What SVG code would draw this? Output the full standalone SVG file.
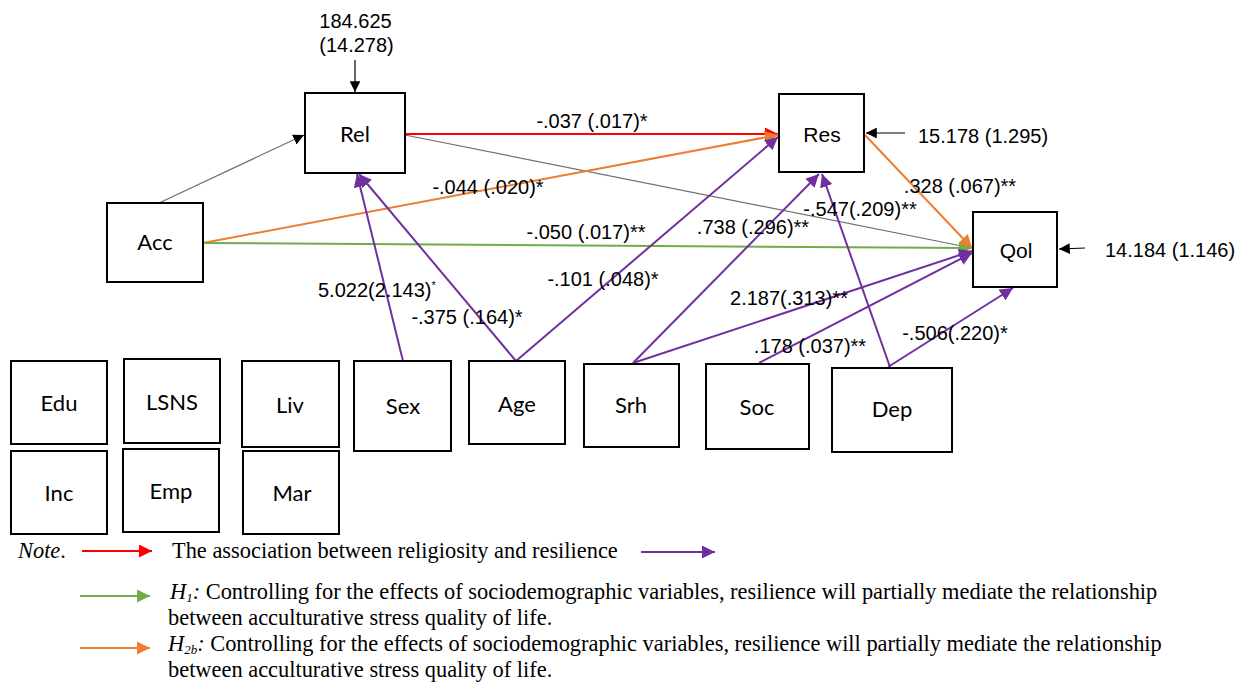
<svg xmlns="http://www.w3.org/2000/svg" width="1238" height="682" viewBox="0 0 1238 682">
<style>
.box{fill:#fff;stroke:#000;stroke-width:2}
.nl{font-family:Lato,"Liberation Sans",sans-serif;font-size:22px;text-anchor:middle;fill:#000}
.na{font-family:"Liberation Sans",Arial,sans-serif;font-size:21px;text-anchor:middle;fill:#000}
.lb{font-family:"Liberation Sans",Arial,sans-serif;font-size:20px;fill:#000}
.lm{text-anchor:middle}
.lg{font-family:"Liberation Serif","Times New Roman",serif;font-size:22.4px;fill:#000}
.p{stroke:#7030A0;stroke-width:2;fill:none}
.o{stroke:#ED7D31;stroke-width:2;fill:none}
.g{stroke:#70AD47;stroke-width:2;fill:none}
.r{stroke:#FF0000;stroke-width:2;fill:none}
.k{stroke:#707070;stroke-width:1.2;fill:none}
.b{stroke:#000;stroke-width:1.2;fill:none}
</style>
<defs>
<marker id="mp" viewBox="0 0 10 10" refX="10" refY="5" markerWidth="6.5" markerHeight="6.5" markerUnits="strokeWidth" orient="auto"><path d="M0,0L10,5L0,10z" fill="#7030A0"/></marker>
<marker id="mo" viewBox="0 0 10 10" refX="10" refY="5" markerWidth="6.5" markerHeight="6.5" markerUnits="strokeWidth" orient="auto"><path d="M0,0L10,5L0,10z" fill="#ED7D31"/></marker>
<marker id="mg" viewBox="0 0 10 10" refX="10" refY="5" markerWidth="6.5" markerHeight="6.5" markerUnits="strokeWidth" orient="auto"><path d="M0,0L10,5L0,10z" fill="#70AD47"/></marker>
<marker id="mr" viewBox="0 0 10 10" refX="10" refY="5" markerWidth="6.5" markerHeight="6.5" markerUnits="strokeWidth" orient="auto"><path d="M0,0L10,5L0,10z" fill="#FF0000"/></marker>
<marker id="mk" viewBox="0 0 10 10" refX="10" refY="5" markerWidth="9" markerHeight="9" markerUnits="strokeWidth" orient="auto"><path d="M0,0L10,5L0,10z" fill="#000"/></marker>
</defs>
<rect width="1238" height="682" fill="#fff"/>

<g id="connectors">
<line class="k" x1="159" y1="203" x2="304" y2="135" marker-end="url(#mk)"/>
<line class="k" x1="405" y1="135" x2="972" y2="248" marker-end="url(#mk)"/>
<line class="r" x1="405" y1="134" x2="778" y2="134" marker-end="url(#mr)"/>
<line class="o" x1="203" y1="243" x2="778" y2="135" marker-end="url(#mo)"/>
<line class="g" x1="203" y1="243" x2="972" y2="248" marker-end="url(#mg)"/>
<line class="o" x1="865" y1="135" x2="972" y2="248" marker-end="url(#mo)"/>
<line class="p" x1="403" y1="361" x2="357" y2="174" marker-end="url(#mp)"/>
<line class="p" x1="516" y1="361" x2="359" y2="174" marker-end="url(#mp)"/>
<line class="p" x1="516" y1="361" x2="778" y2="137" marker-end="url(#mp)"/>
<line class="p" x1="633" y1="363" x2="819" y2="174" marker-end="url(#mp)"/>
<line class="p" x1="633" y1="363" x2="972" y2="251" marker-end="url(#mp)"/>
<line class="p" x1="759" y1="363" x2="972" y2="253" marker-end="url(#mp)"/>
<line class="p" x1="890" y1="367" x2="822" y2="174" marker-end="url(#mp)"/>
<line class="p" x1="888" y1="367" x2="1013" y2="288" marker-end="url(#mp)"/>
<line class="b" x1="355" y1="60" x2="355" y2="92" marker-end="url(#mk)"/>
<line class="b" x1="905" y1="133" x2="866" y2="133" marker-end="url(#mk)"/>
<line class="b" x1="1085" y1="248" x2="1059" y2="249" marker-end="url(#mk)"/>
</g>

<g id="labels" class="lb">
<text x="355.5" y="28" class="lm">184.625</text>
<text x="356.5" y="52" class="lm">(14.278)</text>
<text x="592" y="128" class="lm">-.037 (.017)*</text>
<text x="488" y="194" class="lm">-.044 (.020)*</text>
<text x="586" y="239" class="lm">-.050 (.017)**</text>
<text x="603" y="286" class="lm">-.101 (.048)*</text>
<text x="753" y="234" class="lm">.738 (.296)**</text>
<text x="860" y="216" class="lm">-.547(.209)**</text>
<text x="960" y="193" class="lm">.328 (.067)**</text>
<text x="918" y="143">15.178 (1.295)</text>
<text x="1105" y="257">14.184 (1.146)</text>
<text x="318" y="297">5.022(2.143)<tspan font-size="11" dy="-8">*</tspan></text>
<text x="467" y="324" class="lm">-.375 (.164)*</text>
<text x="789" y="305" class="lm">2.187(.313)**</text>
<text x="810" y="353" class="lm">.178 (.037)**</text>
<text x="955" y="340" class="lm">-.506(.220)*</text>
</g>

<g id="Rel"><rect class="box" x="305" y="93" width="100" height="80"/><text class="nl" x="355" y="142">Rel</text></g>
<g id="Acc"><rect class="box" x="107" y="203" width="96" height="79"/><text class="nl" x="155" y="250">Acc</text></g>
<g id="Res"><rect class="box" x="779" y="94" width="85" height="78"/><text class="na" x="822" y="142">Res</text></g>
<g id="Qol"><rect class="box" x="973" y="212" width="84" height="75"/><text class="na" x="1016" y="258">Qol</text></g>
<g id="Edu"><rect class="box" x="11" y="361" width="96" height="83"/><text class="nl" x="59" y="411">Edu</text></g>
<g id="LSNS"><rect class="box" x="124" y="359" width="96" height="84"/><text class="nl" x="172" y="410">LSNS</text></g>
<g id="Liv"><rect class="box" x="242" y="361" width="97" height="86"/><text class="nl" x="290" y="413">Liv</text></g>
<g id="Sex"><rect class="box" x="354" y="361" width="97" height="90"/><text class="nl" x="403" y="414">Sex</text></g>
<g id="Age"><rect class="box" x="469" y="361" width="96" height="83"/><text class="nl" x="517" y="412">Age</text></g>
<g id="Srh"><rect class="box" x="584" y="364" width="95" height="83"/><text class="nl" x="631" y="413">Srh</text></g>
<g id="Soc"><rect class="box" x="706" y="364" width="103" height="85"/><text class="nl" x="757" y="415">Soc</text></g>
<g id="Dep"><rect class="box" x="832" y="368" width="120" height="84"/><text class="nl" x="892" y="417">Dep</text></g>
<g id="Inc"><rect class="box" x="11" y="451" width="96" height="83"/><text class="nl" x="59" y="501">Inc</text></g>
<g id="Emp"><rect class="box" x="123" y="449" width="96" height="83"/><text class="nl" x="171" y="499">Emp</text></g>
<g id="Mar"><rect class="box" x="243" y="451" width="96" height="83"/><text class="nl" x="292" y="501">Mar</text></g>

<g id="legend" class="lg">
<text x="18" y="558" font-style="italic">Note<tspan font-style="normal">.</tspan></text>
<line class="r" x1="82" y1="551" x2="152" y2="551" marker-end="url(#mr)"/>
<text x="172" y="558">The association between religiosity and resilience</text>
<line class="p" x1="641" y1="552" x2="715" y2="552" marker-end="url(#mp)"/>
<line class="g" x1="80" y1="596" x2="150" y2="596" marker-end="url(#mg)"/>
<text x="170" y="599"><tspan font-style="italic">H<tspan font-size="13" dy="3">1</tspan><tspan dy="-3">:</tspan></tspan> Controlling for the effects of sociodemographic variables, resilience will partially mediate the relationship</text>
<text x="168" y="625">between acculturative stress quality of life.</text>
<line class="o" x1="80" y1="648" x2="150" y2="648" marker-end="url(#mo)"/>
<text x="168" y="651"><tspan font-style="italic">H<tspan font-size="13" dy="3">2b</tspan><tspan dy="-3">:</tspan></tspan> Controlling for the effects of sociodemographic variables, resilience will partially mediate the relationship</text>
<text x="168" y="677">between acculturative stress quality of life.</text>
</g>
</svg>
